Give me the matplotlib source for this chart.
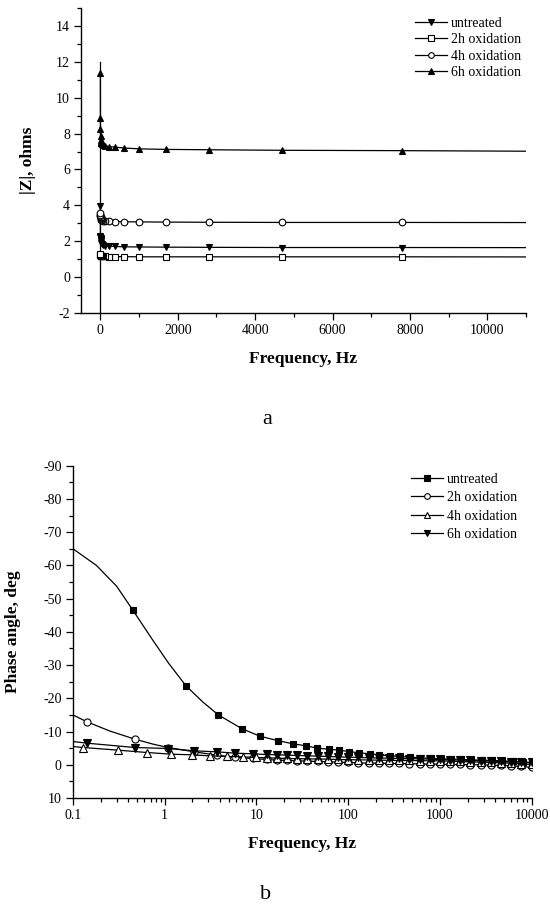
import numpy as np
import matplotlib
matplotlib.use("Agg")
import matplotlib.pyplot as plt
from matplotlib.lines import Line2D
from matplotlib.ticker import MultipleLocator, LogLocator, NullFormatter

plt.rcParams['font.family'] = ['Liberation Serif', 'DejaVu Serif']
plt.rcParams['axes.unicode_minus'] = False

# ---------------- Panel a: |Z| vs frequency (linear) ----------------
freq_a = [13000, 7800, 4700, 2800, 1700, 1000, 600, 370, 220, 130, 80, 48,
          29, 17, 10, 6, 3.7, 2.2, 1.3, 0.8]
z_untreated = [1.63, 1.64, 1.64, 1.65, 1.66, 1.67, 1.68, 1.70, 1.72, 1.75,
               1.80, 1.85, 1.90, 1.98, 2.05, 2.12, 2.18, 2.22, 2.28, 3.94]
z_2h = [1.11, 1.12, 1.12, 1.12, 1.12, 1.12, 1.13, 1.13, 1.13, 1.14,
        1.14, 1.15, 1.15, 1.16, 1.17, 1.18, 1.19, 1.21, 1.24, 1.30]
z_4h = [3.03, 3.04, 3.04, 3.05, 3.06, 3.07, 3.08, 3.09, 3.10, 3.12,
        3.14, 3.17, 3.20, 3.24, 3.28, 3.32, 3.36, 3.40, 3.47, 3.55]
z_6h = [7.00, 7.05, 7.07, 7.10, 7.12, 7.15, 7.20, 7.25, 7.28, 7.32,
        7.36, 7.40, 7.45, 7.50, 7.56, 7.67, 7.86, 8.24, 8.89, 11.37]
labels_a = ['untreated', '2h oxidation', '4h oxidation', '6h oxidation']
vline_top_a = 12.0

# ---------------- Panel b: phase angle vs frequency (log) ----------------
freq_b_untr = [0.1, 0.18, 0.3, 0.45, 0.75, 1.1, 1.7, 2.6, 3.85, 6.9, 10.9,
               17, 25, 35, 46, 61, 79, 102, 131, 173, 219, 286, 368, 473,
               610, 790, 1020, 1320, 1700, 2200, 2850, 3700, 4800, 6200,
               8000, 10000]
ph_untr = [-65.0, -60.0, -53.7, -46.5, -37.3, -30.6, -23.8, -18.9, -15.0,
           -10.9, -8.6, -7.3, -6.3, -5.7, -5.0, -4.7, -4.4, -4.0, -3.6,
           -3.3, -3.0, -2.7, -2.5, -2.3, -2.1, -1.95, -1.8, -1.7, -1.6,
           -1.5, -1.4, -1.3, -1.2, -1.0, -0.8, -0.6]
mark_untr = [3, 6, 8] + list(range(9, 36))

freq_b_2h = [0.1, 0.143, 0.25, 0.474, 0.75, 1.09, 2.1, 3.7, 5.9, 9.1, 12.9,
             16.7, 21.5, 27.8, 35.9, 46.4, 59.9, 77.4, 100, 129, 167, 215,
             278, 359, 464, 599, 774, 1000, 1290, 1670, 2150, 2780, 3590,
             4640, 5990, 7740, 10000]
ph_2h = [-15.0, -12.9, -10.2, -7.7, -6.2, -5.2, -3.9, -2.9, -2.2, -1.9,
         -1.6, -1.4, -1.3, -1.2, -1.1, -1.0, -0.9, -0.8, -0.7, -0.6, -0.5,
         -0.5, -0.4, -0.4, -0.3, -0.3, -0.2, -0.2, -0.1, -0.1, 0.0, 0.0,
         0.1, 0.2, 0.3, 0.5, 0.8]
mark_2h = [1, 3, 5] + list(range(6, 37))

freq_b_4h = [0.1, 0.129, 0.312, 0.637, 1.17, 1.97, 3.1, 4.75, 7.1, 10,
             12.9, 16.7, 21.5, 27.8, 35.9, 46.4, 59.9, 77.4, 100, 129, 167,
             215, 278, 359, 464, 599, 774, 1000, 1290, 1670, 2150, 2780,
             3590, 4640, 5990, 7740, 10000]
ph_4h = [-5.5, -5.2, -4.4, -3.7, -3.2, -3.0, -2.7, -2.5, -2.4, -2.2, -2.1,
         -2.0, -1.9, -1.85, -1.8, -1.75, -1.7, -1.6, -1.55, -1.5, -1.45,
         -1.4, -1.35, -1.3, -1.3, -1.25, -1.2, -1.2, -1.1, -1.0, -0.9,
         -0.8, -0.7, -0.6, -0.5, -0.3, -0.1]

freq_b_6h = [0.1, 0.143, 0.474, 1.09, 2.1, 3.7, 5.9, 9.1, 12.9, 16.7, 21.5,
             27.8, 35.9, 46.4, 59.9, 77.4, 100, 129, 167, 215, 278, 359,
             464, 599, 774, 1000, 1290, 1670, 2150, 2780, 3590, 4640, 5990,
             7740, 10000]
ph_6h = [-7.0, -6.5, -5.2, -4.9, -4.2, -3.9, -3.5, -3.3, -3.1, -3.0, -2.9,
         -2.8, -2.7, -2.6, -2.5, -2.4, -2.3, -2.2, -2.1, -2.05, -2.0, -1.9,
         -1.85, -1.8, -1.7, -1.6, -1.5, -1.4, -1.3, -1.2, -1.1, -1.0, -0.9,
         -0.8, -0.7]
labels_b = ['untreated', '2h oxidation', '4h oxidation', '6h oxidation']

# ---------------- Figure ----------------
fig = plt.figure(figsize=(5.5, 9.05), dpi=100)
ax1 = fig.add_axes([0.1473, 0.6545, 0.809, 0.3363])
ax2 = fig.add_axes([0.1327, 0.1182, 0.834, 0.3672])

lw = 0.9
ms = 4.8
mew = 0.8
tick_fs = 10
lab_fs = 12.5

def style(ax):
    for s in ['top', 'right']:
        ax.spines[s].set_visible(False)
    for s in ['left', 'bottom']:
        ax.spines[s].set_linewidth(1.0)
    ax.tick_params(which='both', direction='out', labelsize=tick_fs,
                   width=0.9)
    ax.tick_params(which='major', length=5, pad=3)
    ax.tick_params(which='minor', length=3)

# Panel a
styles_a = [('v', 'black', ms), ('s', 'white', ms - 0.5),
            ('o', 'white', ms), ('^', 'black', ms)]
ax1.axvline(0, ymin=0, ymax=(vline_top_a - (-2)) / 17.0, color='black', lw=lw)
for yv, (mk, fc, msz), lab in zip([z_untreated, z_2h, z_4h, z_6h], styles_a,
                                  labels_a):
    ax1.plot(freq_a, yv, '-', marker=mk, color='black', mfc=fc, ms=msz,
             mew=mew, lw=lw, label=lab)
ax1.set_xlim(-500, 11000)
ax1.set_ylim(-2, 15)
ax1.set_xticks([0, 2000, 4000, 6000, 8000, 10000])
ax1.set_yticks([-2, 0, 2, 4, 6, 8, 10, 12, 14])
ax1.xaxis.set_minor_locator(MultipleLocator(1000))
ax1.yaxis.set_minor_locator(MultipleLocator(1))
style(ax1)
ax1.set_xlabel('Frequency, Hz', fontsize=lab_fs, fontweight='bold', labelpad=10)
ax1.set_ylabel('|Z|, ohms', fontsize=lab_fs, fontweight='bold', labelpad=14)
ax1.legend(loc='upper left', bbox_to_anchor=(0.75, 0.972), frameon=False,
           fontsize=10, handlelength=2.3, handletextpad=0.3,
           labelspacing=0.24, borderpad=0, borderaxespad=0, markerscale=0.85)

# Panel b
styles_b = [('s', 'black', ms), ('o', 'white', ms + 0.3),
            ('^', 'white', ms + 0.5), ('v', 'black', ms + 0.5)]
series_b = [(freq_b_untr, ph_untr, mark_untr),
            (freq_b_2h, ph_2h, mark_2h),
            (freq_b_4h, ph_4h, list(range(1, len(ph_4h)))),
            (freq_b_6h, ph_6h, list(range(1, len(ph_6h))))]
handles_b = []
for (fx, fy, me), (mk, fc, msz), lab in zip(series_b, styles_b, labels_b):
    ax2.plot(fx, fy, '-', marker=mk, color='black', mfc=fc, ms=msz,
             mew=mew, lw=lw, markevery=me)
    handles_b.append(Line2D([], [], linestyle='-', marker=mk, color='black',
                            mfc=fc, ms=msz, mew=mew, lw=lw, label=lab))
ax2.set_xscale('log')
ax2.set_xlim(0.1, 10000)
ax2.set_ylim(10, -90)
ticks_b = [0.1, 1, 10, 100, 1000, 10000]
ax2.set_xticks(ticks_b)
ax2.set_xticklabels(['0.1', '1', '10', '100', '1000', '10000'])
ax2.xaxis.set_minor_locator(LogLocator(base=10, subs=np.arange(2, 10)))
ax2.xaxis.set_minor_formatter(NullFormatter())
ax2.set_yticks(list(range(-90, 11, 10)))
ax2.yaxis.set_minor_locator(MultipleLocator(5))
style(ax2)
ax2.set_xlabel('Frequency, Hz', fontsize=lab_fs, fontweight='bold', labelpad=10)
ax2.set_ylabel('Phase angle, deg', fontsize=lab_fs, fontweight='bold', labelpad=16)
ax2.legend(handles=handles_b, loc='upper left', bbox_to_anchor=(0.737, 0.978),
           frameon=False, fontsize=10, handlelength=2.3, handletextpad=0.3,
           labelspacing=0.38, borderpad=0, borderaxespad=0, markerscale=0.8)

fig.text(267 / 550, 1 - 419 / 905, 'a', ha='center', va='center', fontsize=16)
fig.text(266 / 550, 1 - 894 / 905, 'b', ha='center', va='center', fontsize=16)

fig.savefig('out.png', dpi=100)
